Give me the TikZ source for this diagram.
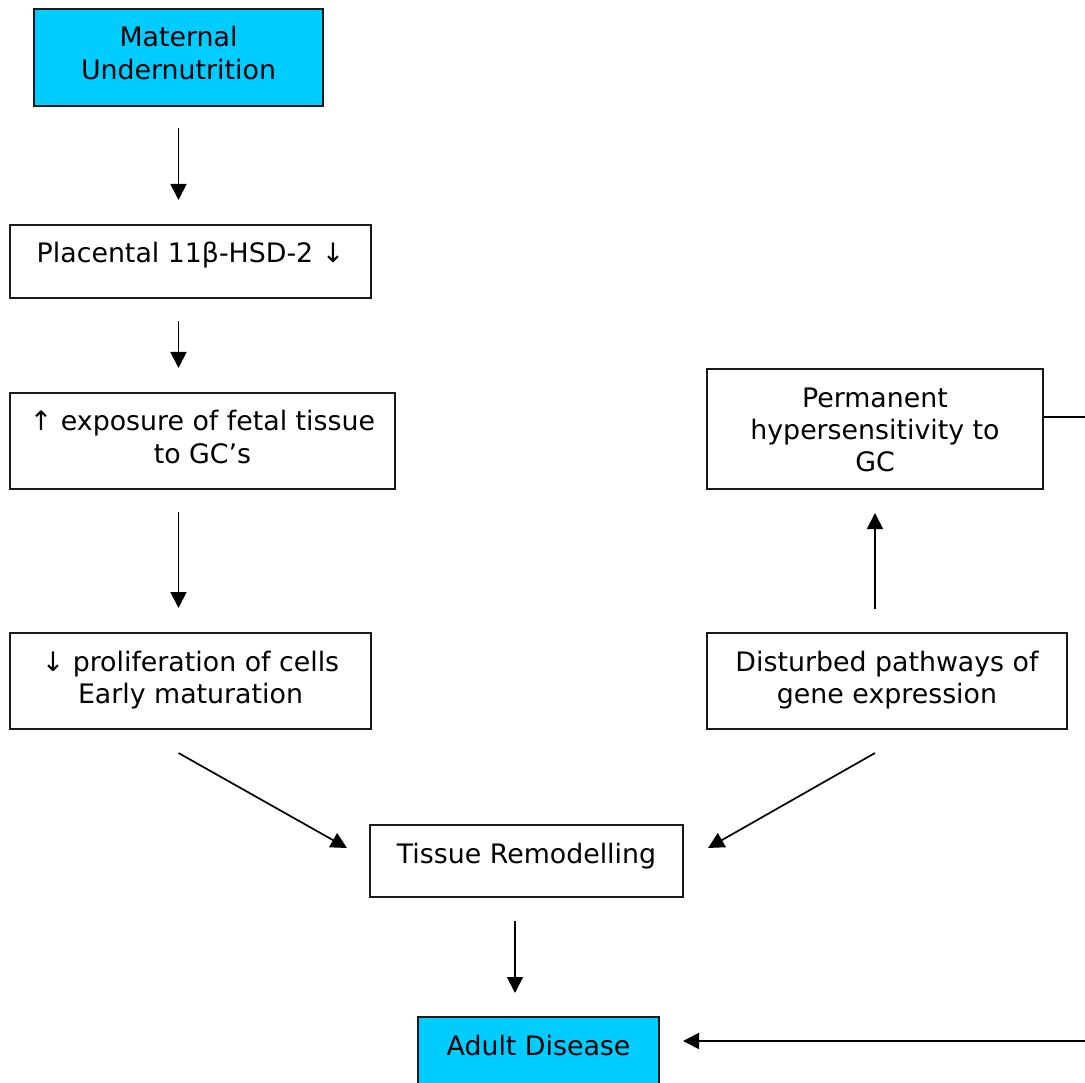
\documentclass[tikz,border=0pt]{standalone}
\usepackage{fontspec}
\setmainfont{DejaVu Sans}
\usetikzlibrary{arrows.meta,calc}
\definecolor{boxcyan}{HTML}{00CCFF}
\newcommand{\bxt}[3]{\parbox[t][#2][t]{#1}{\centering\rule{0pt}{38pt}#3}}
\begin{document}
\begin{tikzpicture}[x=1pt,y=-1pt,
  box/.style={draw=black!90, line width=1.7pt, inner sep=0pt, outer sep=0pt, anchor=north west,
    font=\fontsize{26.8pt}{32.5pt}\selectfont},
  conn/.style={line width=1.7pt},
  arr/.style={conn, -{Triangle[length=16pt,width=16pt]}}]
\useasboundingbox (0,0) rectangle (1085,1083);
\clip (0,0) rectangle (1085,1083);
\node[box, fill=boxcyan] (mat) at (34,9) {\bxt{289pt}{97pt}{Maternal\\Undernutrition}};
\node[box] (plac) at (10,225) {\bxt{361pt}{73pt}{Placental 11β-HSD-2 ↓}};
\node[box] (expo) at (10,393) {\bxt{385pt}{96pt}{↑ exposure of fetal tissue\\to GC’s}};
\node[box] (prol) at (10,633) {\bxt{361pt}{96pt}{↓ proliferation of cells\\Early maturation}};
\node[box] (perm) at (707,369) {\bxt{336pt}{120pt}{Permanent\\hypersensitivity to\\GC}};
\node[box] (dist) at (707,633) {\bxt{360pt}{96pt}{Disturbed pathways of\\gene expression}};
\node[box] (tis) at (370,825) {\bxt{313pt}{72pt}{Tissue Remodelling}};
\node[box, fill=boxcyan] (adult) at (418,1017) {\bxt{241pt}{72pt}{Adult Disease}};
\coordinate (pr) at (1090,417);
\coordinate (br) at (1090,1041);
\draw[arr] ($(mat.south)+(0,22)$) -- ($(plac.north -| mat.south)-(0,25)$);
\draw[arr] ($(plac.south -| mat.south)+(0,23)$) -- ($(expo.north -| mat.south)-(0,25)$);
\draw[arr] ($(expo.south -| mat.south)+(0,23)$) -- ($(prol.north -| mat.south)-(0,25)$);
\draw[arr] ($(prol.south -| mat.south)+(0,24)$) -- ($(tis.north west)+(-23,23)$);
\draw[arr] ($(dist.north -| perm.south)-(0,24)$) -- ($(perm.south)+(0,24)$);
\draw[arr] ($(dist.south -| perm.south)+(0,24)$) -- ($(tis.north east)+(25,23)$);
\draw[arr] ($(tis.south west)+(145,24)$) -- ($(adult.north west)+(97,-24)$);
\draw[conn] (pr -| perm.east) -- (pr);
\draw[arr] (br) -- ($(br -| adult.east)+(24,0)$);
\end{tikzpicture}
\end{document}
